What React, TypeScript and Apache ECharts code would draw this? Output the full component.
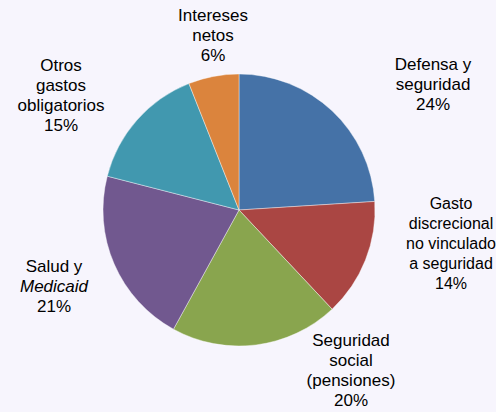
import React, { useEffect, useRef } from "react";
import * as echarts from "echarts";

const categories = [
  "Defensa y seguridad",
  "Gasto discrecional no vinculado a seguridad",
  "Seguridad social (pensiones)",
  "Salud y Medicaid",
  "Otros gastos obligatorios",
  "Intereses netos",
];
const values = [24, 14, 20, 21, 15, 6];
const labelTexts = [
  "Defensa y\nseguridad",
  "Gasto\ndiscrecional\nno vinculado\na seguridad",
  "Seguridad\nsocial\n(pensiones)",
  "Salud y\n{i|Medicaid}",
  "Otros\ngastos\nobligatorios",
  "Intereses\nnetos",
];
const colors = ["#4572A7", "#AA4643", "#89A54E", "#71588F", "#4198AF", "#DB843D"];
const labelCenters = [
  [433, 84],
  [451, 243],
  [351, 370],
  [54, 286],
  [61, 95],
  [213, 35],
];
const labelFontSizes = [17, 16, 17, 17, 17, 17];

export default function App() {
  const ref = useRef<HTMLDivElement>(null);
  useEffect(() => {
    if (!ref.current) return;
    const chart = echarts.init(ref.current, undefined, { renderer: "svg" });
    const font = "'Liberation Sans', Arial, sans-serif";
    chart.setOption({
      animation: false,
      backgroundColor: "#F7F5FD",
      color: colors,
      series: [
        {
          type: "pie",
          center: [239, 210],
          radius: [0, 136],
          startAngle: 90,
          clockwise: true,
          data: categories.map((c, i) => ({
            name: c,
            value: values[i],
            label: {
              fontSize: labelFontSizes[i],
              rich: { i: { fontStyle: "italic", fontFamily: font, fontSize: labelFontSizes[i], lineHeight: 20, color: "#000" } },
            },
          })),
          itemStyle: { borderColor: "rgba(255,255,255,0.5)", borderWidth: 0.8 },
          emphasis: { disabled: true },
          labelLine: { show: false },
          label: {
            show: true,
            position: "inside",
            formatter: (p: any) => labelTexts[p.dataIndex] + "\n" + p.value + "%",
            color: "#000",
            fontFamily: font,
            fontSize: 17,
            lineHeight: 20,
            align: "center",
            overflow: "none",
          },
          labelLayout: (params: any) => {
            const c = labelCenters[params.dataIndex];
            return { x: c[0], y: c[1], align: "center", verticalAlign: "middle", hideOverlap: false };
          },
        },
      ],
    });
    return () => chart.dispose();
  }, []);
  return (
    <div
      ref={ref}
      style={{ position: "fixed", left: 0, top: 0, width: 496, height: 412 }}
    />
  );
}
